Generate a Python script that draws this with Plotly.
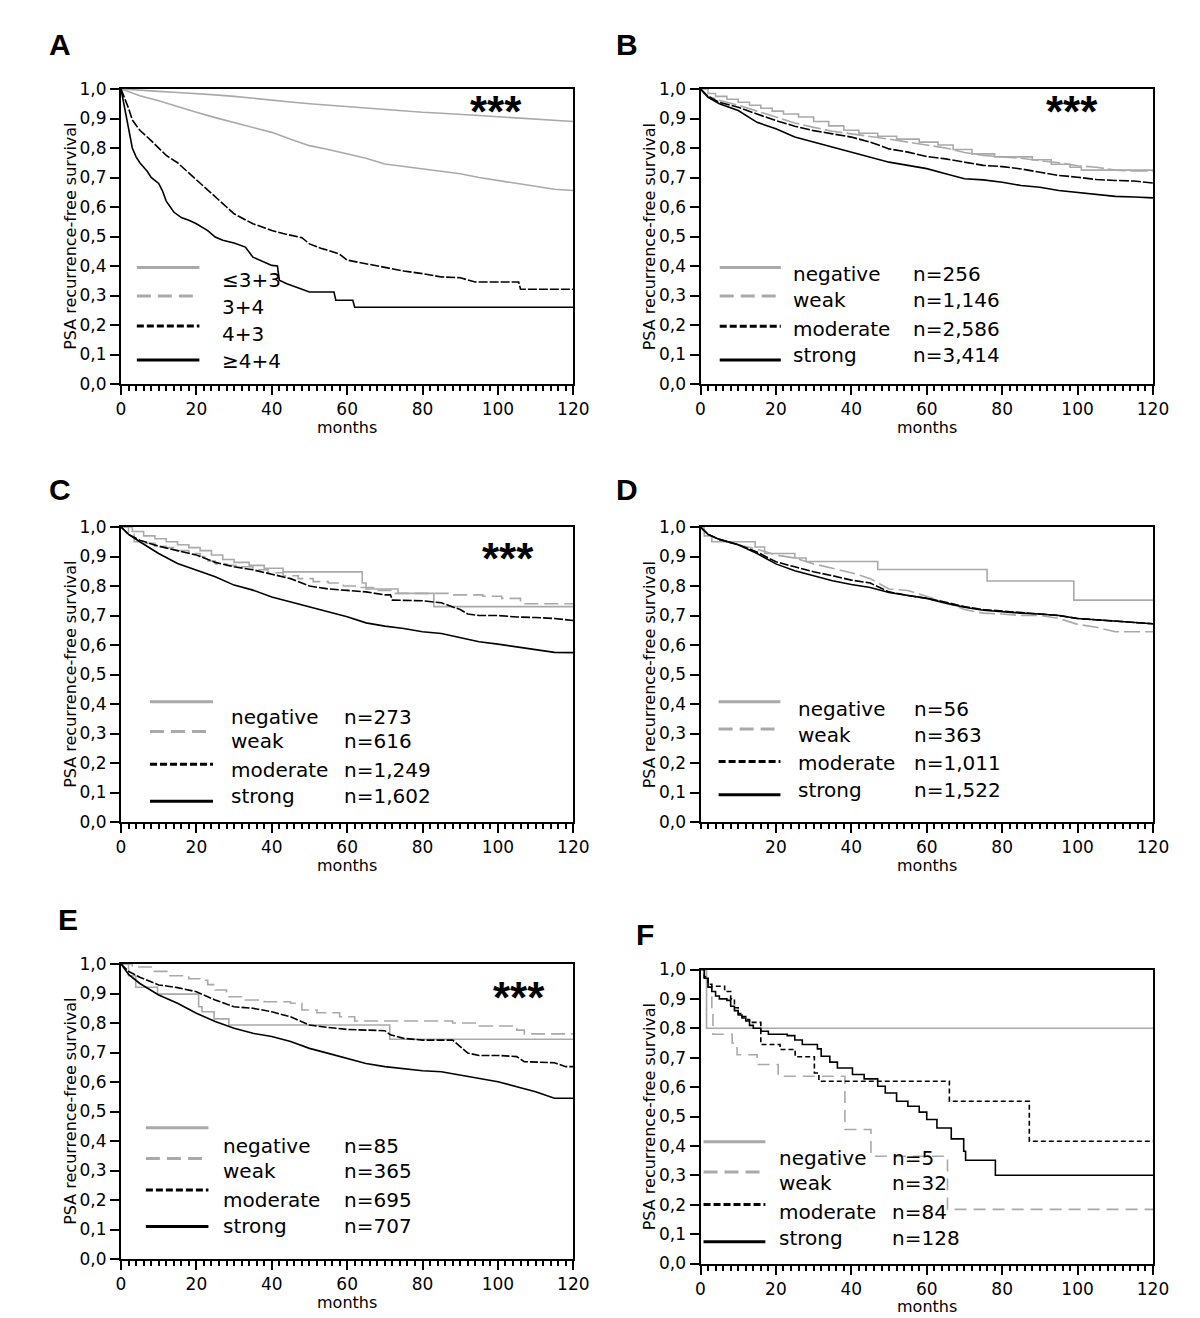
import plotly.graph_objects as go
from plotly.subplots import make_subplots

# ---------------- data (months, survival) ----------------
ihc_labels = ['negative', 'weak', 'moderate', 'strong']
a_labels = ['≤3+3', '3+4', '4+3', '≥4+4']
b_counts = ['n=256', 'n=1,146', 'n=2,586', 'n=3,414']
c_counts = ['n=273', 'n=616', 'n=1,249', 'n=1,602']
d_counts = ['n=56', 'n=363', 'n=1,011', 'n=1,522']
e_counts = ['n=85', 'n=365', 'n=695', 'n=707']
f_counts = ['n=5', 'n=32', 'n=84', 'n=128']

grid = [0, 2, 5, 10, 15, 20, 25, 30, 35, 40, 45, 50, 55, 60, 65, 70, 75, 80, 85, 90, 95, 100, 105, 110, 115, 120]

# A: Gleason groups
a_le33 = [1, 0.998, 0.995, 0.992, 0.988, 0.985, 0.98, 0.975, 0.968, 0.962, 0.956, 0.95, 0.945, 0.94, 0.935, 0.93,
          0.925, 0.921, 0.918, 0.915, 0.91, 0.906, 0.902, 0.898, 0.893, 0.89]
a_34 = [1, 0.99, 0.977, 0.96, 0.94, 0.921, 0.903, 0.887, 0.87, 0.853, 0.83, 0.808, 0.795, 0.78, 0.765, 0.746,
        0.738, 0.73, 0.722, 0.713, 0.70, 0.69, 0.68, 0.67, 0.66, 0.656]
a_43_t = [0, 1, 2, 3, 5, 8, 10, 12, 15, 18, 20, 23, 25, 28, 30, 33, 35, 38, 40, 43, 45, 48, 50, 53, 55, 58, 60, 62,
          65, 70, 75, 80, 85, 90, 94, 100, 105.5, 106, 120]
a_43 = [1, 0.97, 0.935, 0.895, 0.86, 0.825, 0.80, 0.775, 0.75, 0.715, 0.69, 0.655, 0.634, 0.60, 0.577, 0.555, 0.543,
        0.53, 0.52, 0.51, 0.504, 0.496, 0.475, 0.46, 0.453, 0.44, 0.42, 0.415, 0.41, 0.397, 0.383, 0.374, 0.363, 0.36,
        0.346, 0.346, 0.346, 0.321, 0.321]
a_44_t = [0, 1, 2, 3, 4, 5, 7, 8, 10, 11, 12, 14, 16, 18, 20, 23, 25, 27, 30, 33, 35, 38, 40, 41.5, 42, 44, 47, 50,
          56.5, 57, 61.5, 62, 120]
a_44 = [1, 0.93, 0.87, 0.80, 0.77, 0.75, 0.72, 0.70, 0.68, 0.655, 0.62, 0.583, 0.564, 0.555, 0.543, 0.52, 0.498,
        0.487, 0.478, 0.464, 0.43, 0.414, 0.402, 0.40, 0.352, 0.34, 0.326, 0.312, 0.312, 0.284, 0.284, 0.26, 0.26]

# B
b_neg_t = [0, 2, 4, 7, 10, 13, 16, 19, 22, 26, 30, 34, 38, 42, 47, 52, 58, 63, 67, 72, 78, 88, 93, 98, 101, 120]
b_neg = [1, 0.985, 0.975, 0.965, 0.955, 0.945, 0.935, 0.925, 0.915, 0.905, 0.89, 0.875, 0.86, 0.85, 0.84, 0.83,
         0.82, 0.81, 0.795, 0.78, 0.77, 0.76, 0.745, 0.735, 0.725, 0.725]
b_weak = [1, 0.975, 0.962, 0.945, 0.925, 0.905, 0.885, 0.87, 0.857, 0.848, 0.84, 0.83, 0.82, 0.81, 0.80, 0.785,
          0.775, 0.77, 0.765, 0.757, 0.75, 0.74, 0.735, 0.725, 0.722, 0.722]
b_mod = [1, 0.975, 0.955, 0.938, 0.915, 0.893, 0.874, 0.859, 0.848, 0.837, 0.82, 0.797, 0.786, 0.771, 0.763, 0.752,
         0.741, 0.737, 0.729, 0.718, 0.707, 0.701, 0.693, 0.69, 0.688, 0.681]
b_str = [1, 0.972, 0.95, 0.927, 0.887, 0.865, 0.837, 0.82, 0.803, 0.786, 0.769, 0.752, 0.741, 0.73, 0.713, 0.696,
         0.692, 0.684, 0.673, 0.667, 0.656, 0.65, 0.643, 0.636, 0.634, 0.631]

# C
c_neg_t = [0, 3, 6, 9, 12, 15, 18, 21, 24, 27, 30, 34, 38, 43, 64, 65, 73.5, 83, 120]
c_neg = [1, 0.985, 0.97, 0.96, 0.95, 0.94, 0.93, 0.92, 0.905, 0.89, 0.88, 0.87, 0.86, 0.848, 0.81, 0.79, 0.775,
         0.73, 0.73]
c_weak_t = [0, 2, 3.5, 6, 9, 12, 15, 18, 21, 22.5, 25, 28, 31, 35, 39, 43, 47, 51, 55, 59, 63, 67, 72, 78, 88, 96,
            101, 106, 120]
c_weak = [1, 0.975, 0.95, 0.945, 0.935, 0.93, 0.92, 0.91, 0.9, 0.885, 0.875, 0.87, 0.865, 0.855, 0.845, 0.835,
          0.825, 0.815, 0.81, 0.80, 0.795, 0.785, 0.775, 0.775, 0.77, 0.765, 0.758, 0.74, 0.74]
c_mod_t = [0, 2, 5, 10, 15, 20, 25, 30, 35, 40, 45, 50, 55, 60, 65, 70, 71.5, 72, 80, 85, 88, 90, 92, 95, 100, 105,
           110, 115, 120]
c_mod = [1, 0.975, 0.955, 0.935, 0.92, 0.905, 0.88, 0.865, 0.855, 0.84, 0.825, 0.80, 0.79, 0.785, 0.78, 0.77, 0.77,
         0.752, 0.75, 0.743, 0.73, 0.72, 0.705, 0.70, 0.70, 0.695, 0.693, 0.69, 0.683]
c_str = [1, 0.975, 0.95, 0.91, 0.876, 0.853, 0.831, 0.803, 0.786, 0.763, 0.746, 0.729, 0.713, 0.696, 0.675, 0.664,
         0.656, 0.645, 0.639, 0.625, 0.611, 0.603, 0.594, 0.583, 0.575, 0.574]

# D
d_neg_t = [0, 1, 3, 14.5, 17, 25, 28, 47, 76, 99, 120]
d_neg = [1, 0.97, 0.95, 0.932, 0.91, 0.895, 0.883, 0.856, 0.817, 0.752, 0.752]
d_weak = [1, 0.975, 0.958, 0.94, 0.925, 0.905, 0.895, 0.875, 0.86, 0.845, 0.825, 0.79, 0.785, 0.765, 0.745, 0.72,
          0.708, 0.705, 0.70, 0.70, 0.69, 0.67, 0.66, 0.645, 0.645, 0.645]
d_mod = [1, 0.975, 0.958, 0.94, 0.915, 0.882, 0.865, 0.848, 0.835, 0.82, 0.81, 0.78, 0.768, 0.758, 0.745, 0.73,
         0.72, 0.715, 0.71, 0.706, 0.70, 0.69, 0.685, 0.68, 0.677, 0.672]
d_str = [1, 0.975, 0.958, 0.94, 0.91, 0.875, 0.852, 0.835, 0.818, 0.805, 0.795, 0.778, 0.768, 0.758, 0.742, 0.728,
         0.718, 0.712, 0.708, 0.705, 0.70, 0.69, 0.685, 0.68, 0.677, 0.672]

# E
e_neg_t = [0, 2, 3.9, 9.7, 20.6, 21.5, 24.7, 28.6, 71.3, 120]
e_neg = [1, 0.96, 0.921, 0.898, 0.855, 0.838, 0.814, 0.793, 0.745, 0.745]
e_weak_t = [0, 3, 8, 13, 18, 21, 23, 25, 28, 33, 38, 45, 48, 52, 58, 62, 88, 95, 105, 107, 120]
e_weak = [1, 0.99, 0.975, 0.96, 0.95, 0.945, 0.93, 0.912, 0.889, 0.878, 0.872, 0.867, 0.844, 0.835, 0.821, 0.807,
          0.80, 0.79, 0.776, 0.763, 0.763]
e_mod_t = [0, 2, 5, 10, 15, 20, 25, 30, 35, 40, 45, 50, 55, 60, 65, 70, 71.5, 75, 80, 88, 90, 92, 95, 100, 105, 107,
           115, 118, 120]
e_mod = [1, 0.975, 0.955, 0.929, 0.92, 0.906, 0.878, 0.855, 0.85, 0.838, 0.821, 0.793, 0.785, 0.778, 0.776, 0.774,
         0.76, 0.748, 0.742, 0.742, 0.72, 0.698, 0.69, 0.69, 0.686, 0.669, 0.665, 0.652, 0.652]
e_str = [1, 0.965, 0.934, 0.895, 0.867, 0.833, 0.805, 0.782, 0.765, 0.754, 0.737, 0.714, 0.697, 0.68, 0.663, 0.652,
         0.646, 0.638, 0.635, 0.624, 0.612, 0.601, 0.584, 0.567, 0.545, 0.545]

# F
f_neg_t = [0, 1.6, 120]
f_neg = [1, 0.8, 0.8]
f_weak_t = [0, 1, 2, 3, 3.3, 8.4, 9.7, 15, 20.6, 38.3, 45.2, 65.5, 120]
f_weak = [1, 0.97, 0.94, 0.85, 0.78, 0.75, 0.71, 0.677, 0.637, 0.456, 0.365, 0.184, 0.184]
f_mod_t = [0, 1, 2, 3, 6.4, 8, 9, 10, 11, 12, 13, 16, 21.1, 25.1, 30.2, 31.4, 66, 87.2, 120]
f_mod = [1, 0.975, 0.95, 0.943, 0.925, 0.9, 0.87, 0.85, 0.84, 0.83, 0.82, 0.745, 0.728, 0.703, 0.648, 0.62, 0.552,
         0.416, 0.416]
f_str_t = [0, 1, 2, 3, 4, 5, 7, 8, 9, 10, 11, 12, 13, 14, 16, 18, 23, 25, 27, 31, 32, 34.3, 36.3, 40.3, 43.4, 47, 49,
           52, 55, 58, 60, 62.7, 66.5, 69.8, 70.3, 78.2, 120]
f_str = [1, 0.97, 0.94, 0.925, 0.91, 0.9, 0.895, 0.875, 0.86, 0.845, 0.835, 0.825, 0.81, 0.8, 0.79, 0.78, 0.775,
         0.76, 0.745, 0.73, 0.705, 0.685, 0.665, 0.643, 0.628, 0.603, 0.58, 0.552, 0.535, 0.515, 0.49, 0.461, 0.424,
         0.382, 0.351, 0.30, 0.30]

# ---------------- styling ----------------
GRAY = '#a9a9a9'
FONT = 'DejaVu Sans, sans-serif'
BOLD_FONT = 'Liberation Sans, Arial, sans-serif'
legend_styles = [(GRAY, 'solid'), (GRAY, '14px,7px'), ('black', '7px,3px'), ('black', 'solid')]

panels = [
    dict(letter='A', row=1, col=1, labels=a_labels, counts=None,
         series=[(grid, a_le33, 'linear'), (grid, a_34, 'linear'), (a_43_t, a_43, 'linear'), (a_44_t, a_44, 'linear')],
         dashes=['solid', 'solid', '9px,2px', 'solid'],
         leg=dict(x0=4.2, x1=20.8, ly=[0.395, 0.298, 0.197, 0.081], tx=26.2, nx=None, ty=[0.354, 0.262, 0.168, 0.078]),
         star=(99.5, 0.944), pos=(60, 44)),
    dict(letter='B', row=1, col=2, labels=ihc_labels, counts=b_counts,
         series=[(b_neg_t, b_neg, 'hv'), (grid, b_weak, 'linear'), (grid, b_mod, 'linear'), (grid, b_str, 'linear')],
         dashes=['solid', '18px,4px', '10px,2px', 'solid'],
         leg=dict(x0=5.1, x1=21.3, ly=[0.395, 0.298, 0.196, 0.081], tx=23.9, nx=55.8, ty=[0.374, 0.284, 0.188, 0.098]),
         star=(98.5, 0.944), pos=(627, 44)),
    dict(letter='C', row=2, col=1, labels=ihc_labels, counts=c_counts,
         series=[(c_neg_t, c_neg, 'hv'), (c_weak_t, c_weak, 'hv'), (c_mod_t, c_mod, 'linear'), (grid, c_str, 'linear')],
         dashes=['solid', '14px,6px', '9px,2px', 'solid'],
         leg=dict(x0=7.7, x1=24.4, ly=[0.408, 0.307, 0.196, 0.070], tx=28.6, nx=58.6, ty=[0.357, 0.273, 0.177, 0.089]),
         star=(102.7, 0.915), pos=(60, 489)),
    dict(letter='D', row=2, col=2, labels=ihc_labels, counts=d_counts,
         series=[(d_neg_t, d_neg, 'hv'), (grid, d_weak, 'linear'), (grid, d_mod, 'linear'), (grid, d_str, 'linear')],
         dashes=['solid', '16px,5px', '9px,2px', 'solid'],
         leg=dict(x0=4.8, x1=21.2, ly=[0.408, 0.315, 0.205, 0.092], tx=25.3, nx=56.0, ty=[0.383, 0.295, 0.200, 0.109]),
         star=None, pos=(627, 489)),
    dict(letter='E', row=3, col=1, labels=ihc_labels, counts=e_counts,
         series=[(e_neg_t, e_neg, 'hv'), (e_weak_t, e_weak, 'hv'), (e_mod_t, e_mod, 'linear'), (grid, e_str, 'linear')],
         dashes=['solid', '14px,6px', '8px,2px', 'solid'],
         leg=dict(x0=6.6, x1=23.2, ly=[0.445, 0.341, 0.234, 0.110], tx=26.5, nx=58.6, ty=[0.384, 0.299, 0.200, 0.112]),
         star=(105.6, 0.906), pos=(68, 919)),
    dict(letter='F', row=3, col=2, labels=ihc_labels, counts=f_counts,
         series=[(f_neg_t, f_neg, 'hv'), (f_weak_t, f_weak, 'hv'), (f_mod_t, f_mod, 'hv'), (f_str_t, f_str, 'hv')],
         dashes=['solid', '12px,7px', '5px,3px', 'solid'],
         leg=dict(x0=0.8, x1=17.2, ly=[0.414, 0.311, 0.201, 0.074], tx=20.4, nx=50.2, ty=[0.359, 0.274, 0.175, 0.087]),
         star=None, pos=(645, 934)),
]

# the html body adds an 8px margin, so the figure is 8px smaller and shifted
PAD = 8
W, H = 1200 - PAD, 1318 - PAD


def px(x):
    return (x - PAD) / W


def py(y):
    return 1 - (y - PAD) / H


x_dom = {1: [px(121), px(573.3)], 2: [px(700.5), px(1153)]}
y_dom = {(1, 1): [py(384), py(89)], (1, 2): [py(384), py(89)],
         (2, 1): [py(822), py(527)], (2, 2): [py(822), py(527)],
         (3, 1): [py(1259), py(964)], (3, 2): [py(1263.5), py(969.5)]}

fig = make_subplots(rows=3, cols=2)
annotations = []
shapes = []

for p in panels:
    r, c = p['row'], p['col']
    idx = (r - 1) * 2 + c
    sfx = '' if idx == 1 else str(idx)
    xr, yr = 'x' + sfx, 'y' + sfx

    for (t, s, shape), (color, _), dash in zip(p['series'], legend_styles, p['dashes']):
        fig.add_trace(go.Scatter(x=t, y=s, mode='lines', line=dict(color=color, width=1.6, dash=dash, shape=shape),
                                 showlegend=False, hoverinfo='skip'), row=r, col=c)

    # legend drawn inside the plot area
    lg = p['leg']
    for i, (color, dash) in enumerate(legend_styles):
        shapes.append(dict(type='line', xref=xr, yref=yr, x0=lg['x0'], x1=lg['x1'], y0=lg['ly'][i], y1=lg['ly'][i],
                           line=dict(color=color, width=3, dash=dash)))
        annotations.append(dict(xref=xr, yref=yr, x=lg['tx'], y=lg['ty'][i], text=p['labels'][i], showarrow=False,
                                xanchor='left', yanchor='middle', font=dict(size=20, family=FONT, color='black')))
        if p['counts']:
            annotations.append(dict(xref=xr, yref=yr, x=lg['nx'], y=lg['ty'][i], text=p['counts'][i],
                                    showarrow=False, xanchor='left', yanchor='middle',
                                    font=dict(size=20, family=FONT, color='black')))

    if p['star']:
        annotations.append(dict(xref=xr, yref=yr, x=p['star'][0], y=p['star'][1], text='<b>***</b>',
                                showarrow=False, xanchor='center', yanchor='middle', yshift=-6,
                                font=dict(size=44, family=BOLD_FONT, color='black')))

    # axis titles
    annotations.append(dict(xref=xr + ' domain', yref=yr + ' domain', x=-0.112, y=0.5, textangle=-90,
                            xanchor='center', yanchor='middle',
                            text='PSA recurrence-free survival', showarrow=False,
                            font=dict(size=16, family=FONT, color='black')))
    annotations.append(dict(xref=xr + ' domain', yref=yr + ' domain', x=0.5, y=-0.146, xanchor='center',
                            yanchor='middle', text='months', showarrow=False,
                            font=dict(size=16, family=FONT, color='black')))
    # panel letter
    annotations.append(dict(xref='paper', yref='paper', x=px(p['pos'][0]), y=py(p['pos'][1]),
                            text='<b>' + p['letter'] + '</b>', showarrow=False, xanchor='center', yanchor='middle',
                            font=dict(size=30, family=BOLD_FONT, color='black')))

    xticks = dict(tick0=0, dtick=20) if p['letter'] != 'D' else dict(tickmode='array', tickvals=[20, 40, 60, 80, 100, 120])
    fig.update_xaxes(row=r, col=c, domain=x_dom[c], range=[0, 120], showline=True, linecolor='black', linewidth=2,
                     mirror=True, ticks='outside', ticklen=9, tickwidth=2, tickcolor='black', showgrid=False,
                     zeroline=False, automargin=False, tickfont=dict(size=17, family=FONT, color='black'),
                     minor=dict(dtick=2, tick0=0, ticks='outside', ticklen=5, tickwidth=1.5, tickcolor='black',
                                showgrid=False), **xticks)
    fig.update_yaxes(row=r, col=c, domain=y_dom[(r, c)], range=[0, 1], dtick=0.1, tick0=0, tickformat='.1f',
                     showline=True, linecolor='black', linewidth=2, mirror=True, ticks='outside', ticklen=9,
                     tickwidth=2, tickcolor='black', showgrid=False, zeroline=False, automargin=False,
                     tickfont=dict(size=17, family=FONT, color='black'))

fig.update_layout(width=W, height=H, margin=dict(l=0, r=0, t=0, b=0), plot_bgcolor='white', paper_bgcolor='white',
                  separators=',.', annotations=annotations, shapes=shapes, showlegend=False)

fig.write_html('out.html')
